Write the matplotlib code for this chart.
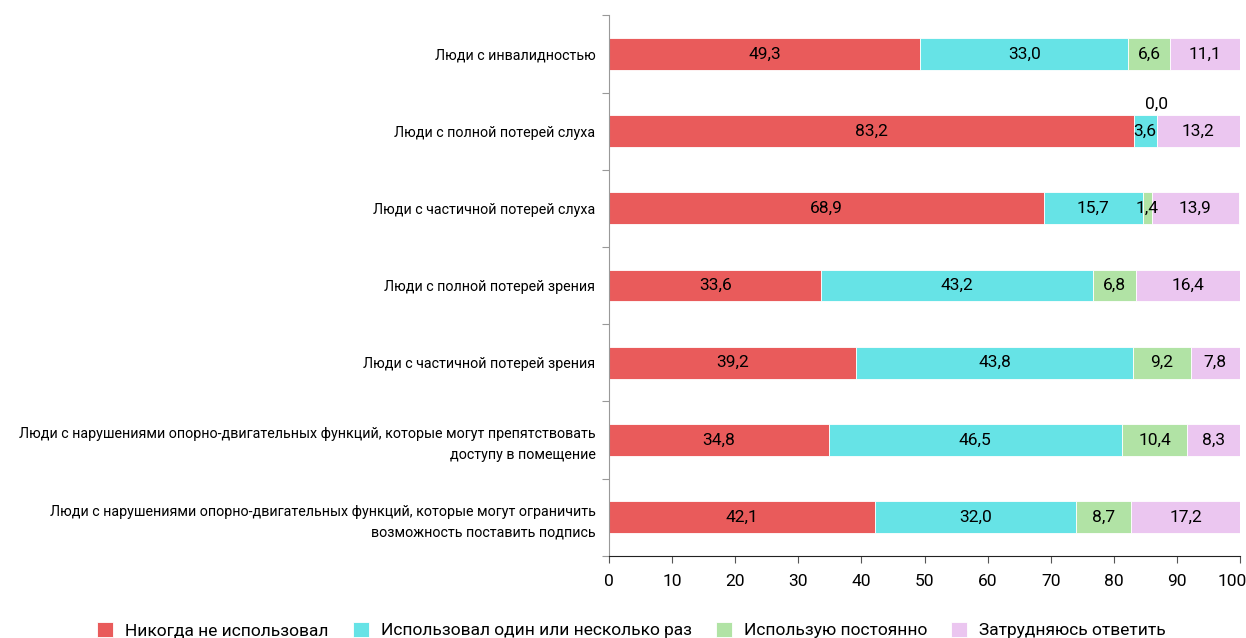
import matplotlib.pyplot as plt
import matplotlib.transforms as mtransforms
import numpy as np

plt.rcParams['font.family'] = ['Roboto', 'DejaVu Sans']

categories = [
    "Люди с инвалидностью",
    "Люди с полной потерей слуха",
    "Люди с частичной потерей слуха",
    "Люди с полной потерей зрения",
    "Люди с частичной потерей зрения",
    "Люди с нарушениями опорно-двигательных функций, которые могут препятствовать\nдоступу в помещение",
    "Люди с нарушениями опорно-двигательных функций, которые могут ограничить\nвозможность поставить подпись",
]
never = [49.3, 83.2, 68.9, 33.6, 39.2, 34.8, 42.1]
once = [33.0, 3.6, 15.7, 43.2, 43.8, 46.5, 32.0]
always = [6.6, 0.0, 1.4, 6.8, 9.2, 10.4, 8.7]
unsure = [11.1, 13.2, 13.9, 16.4, 7.8, 8.3, 17.2]

series = [
    ("Никогда не использовал", never, "#E95B5B"),
    ("Использовал один или несколько раз", once, "#66E3E6"),
    ("Использую постоянно", always, "#B1E3A5"),
    ("Затрудняюсь ответить", unsure, "#EBC6F0"),
]

fig = plt.figure(figsize=(12.46, 6.38), dpi=100)
ax = fig.add_axes([0.489, 0.129, 0.506, 0.847])

y = np.arange(len(categories))
left = np.zeros(len(categories))
for name, vals, color in series:
    vals = np.array(vals)
    ax.barh(y, vals, left=left, height=0.41, color=color, label=name,
            edgecolor='white', linewidth=0.6)
    for yi, l, v in zip(y, left, vals):
        txt = f"{v:.1f}".replace('.', ',')
        # zero share has no room inside the bar, put it above
        dy = -0.35 if v == 0 else 0
        ax.text(l + v / 2, yi + dy, txt, ha='center', va='center', fontsize=12.5)
    left += vals

ax.set_xlim(0, 100)
ax.set_ylim(len(categories) - 0.5, -0.5)
ax.set_xticks(np.arange(0, 101, 10))
ax.set_yticks(y)
ax.set_yticklabels(categories, fontsize=10.3, ha='right', linespacing=1.6)
ax.set_yticks(np.arange(-0.5, len(categories), 1), minor=True)
ax.tick_params(axis='y', which='major', length=0, pad=10)
ax.tick_params(axis='y', which='minor', length=5, width=0.8, color='#999999')
ax.tick_params(axis='x', labelsize=12.5, length=5, width=0.8, color='#555555', pad=8)

# keep the last x label inside the canvas
last = ax.get_xticklabels()[-1]
last.set_horizontalalignment('right')
last.set_transform(last.get_transform() +
                   mtransforms.ScaledTranslation(5 / 72, 0, fig.dpi_scale_trans))

for s in ['top', 'right']:
    ax.spines[s].set_visible(False)
ax.spines['left'].set_color('#999999')
ax.spines['bottom'].set_color('#222222')

handles, labels = ax.get_legend_handles_labels()
fig.legend(handles, labels, loc='lower center', bbox_to_anchor=(0.507, -0.025),
           ncol=4, frameon=False, fontsize=12.5, handlelength=0.9, handleheight=0.9,
           columnspacing=1.4, handletextpad=0.7)

fig.savefig('out.png', dpi=100)
